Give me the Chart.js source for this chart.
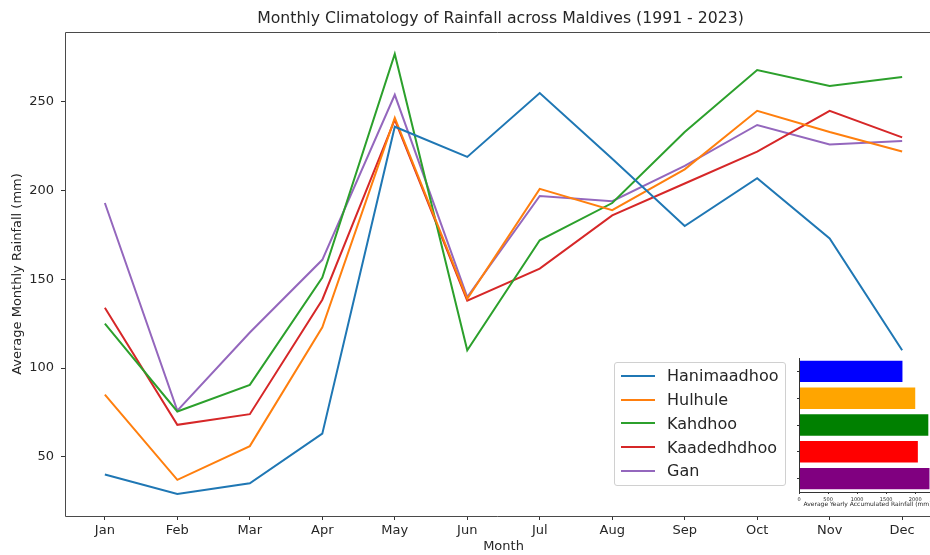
<!DOCTYPE html>
<html>
<head>
<meta charset="utf-8">
<script src="https://cdn.jsdelivr.net/npm/chart.js@4.4.0/dist/chart.umd.min.js"></script>
<style>
  html, body { margin: 0; background: #fff; overflow: hidden; }
  #wrap { position: relative; width: 930px; height: 555px; overflow: hidden; }
  #main { position: absolute; left: 0; top: 0; }
  #inset { position: absolute; left: 780px; top: 350px; }
  #legend {
    position: absolute; left: 614px; top: 362px; width: 172px; height: 124px;
    box-sizing: border-box; border: 1px solid #d0d0d0; border-radius: 3px;
    background: rgba(255,255,255,0.8); padding-top: 1px;
    font-family: "DejaVu Sans", sans-serif; font-size: 16px; color: #262626;
  }
  #legend .row { display: flex; align-items: center; height: 23.75px; }
  #legend .swatch { margin-left: 6px; width: 34px; height: 2px; }
  #legend .name { margin-left: 12px; }
</style>
</head>
<body>
<div id="wrap">
  <canvas id="main" width="930" height="555"></canvas>
  <div id="legend"></div>
  <canvas id="inset" width="150" height="165"></canvas>
</div>
<script>
// monthly climatology (mm)
var months = ["Jan", "Feb", "Mar", "Apr", "May", "Jun", "Jul", "Aug", "Sep", "Oct", "Nov", "Dec"];
var stations = ["Hanimaadhoo", "Hulhule", "Kahdhoo", "Kaadedhdhoo", "Gan"];
var hanimaadhoo = [40, 29, 35, 63, 236, 219, 255, 218, 180, 207, 173, 110];
var hulhule = [85, 37, 56, 123, 241, 139, 201, 189, 212, 245, 233, 222];
var kahdhoo = [125, 75.5, 90.5, 151, 277, 110, 172, 193, 233, 268, 259, 264];
var kaadedhdhoo = [134, 68, 74, 138.5, 240, 138, 156, 186, 204, 222, 245, 230];
var gan = [193, 76, 120, 161, 254, 140, 197, 194, 214, 237, 226, 228];

// yearly accumulated rainfall for the inset bars
var yearlyTotals = [1780, 2000, 2225, 2045, 2245];
var yTicks = [50, 100, 150, 200, 250];
var insetTicks = [0, 500, 1000, 1500, 2000];

var lineColors = ["#1f77b4", "#ff7f0e", "#2ca02c", "#d62728", "#9467bd"];
var barColors = ["blue", "orange", "green", "red", "purple"];
var series = [hanimaadhoo, hulhule, kahdhoo, kaadedhdhoo, gan];

var textColor = "#262626";
var font = "'DejaVu Sans', sans-serif";
var titleText = "Monthly Climatology of Rainfall across Maldives (1991 - 2023)";

// matplotlib-style 5% margins
var allVals = [].concat.apply([], series);
var vMin = Math.min.apply(null, allVals);
var vMax = Math.max.apply(null, allVals);
var vPad = (vMax - vMin) * 0.05;
var xPad = (months.length - 1) * 0.05;
// the original figure is cut at the right: only 865 of the 877px axes width shows
var shown = 865 / 877;
var xMin = -xPad;
var xMax = xMin + (months.length - 1 + 2 * xPad) * shown;
var fullCenter = 65 + 877 / 2;

// spines (right one is outside the picture) + title centred over the full axes
var frame = {
  id: "frame",
  afterDraw: function (chart) {
    var a = chart.chartArea;
    var ctx = chart.ctx;
    var l = Math.round(a.left) + 0.5, t = Math.round(a.top) + 0.5, b = Math.round(a.bottom) + 0.5;
    ctx.save();
    ctx.strokeStyle = "#4a4a4a";
    ctx.lineWidth = 1;
    ctx.beginPath();
    ctx.moveTo(a.right, t);
    ctx.lineTo(l, t);
    ctx.lineTo(l, b);
    ctx.lineTo(a.right, b);
    ctx.stroke();
    ctx.fillStyle = textColor;
    ctx.font = "15.7px " + font;
    ctx.textAlign = "center";
    ctx.textBaseline = "middle";
    ctx.fillText(titleText, fullCenter - 3, 19);
    ctx.restore();
  }
};

var datasets = series.map(function (vals, i) {
  return {
    label: stations[i],
    data: vals.map(function (v, j) { return { x: j, y: v }; }),
    borderColor: lineColors[i],
    backgroundColor: lineColors[i],
    borderWidth: 2,
    pointRadius: 0,
    tension: 0,
  };
});

new Chart(document.getElementById("main").getContext("2d"), {
  type: "line",
  data: { datasets: datasets },
  options: {
    responsive: false,
    animation: false,
    layout: { padding: { top: 32, left: 0, right: 0, bottom: 0 } },
    plugins: {
      legend: { display: false },
      tooltip: { enabled: false },
      title: { display: false },
    },
    scales: {
      x: {
        type: "linear",
        min: xMin,
        max: xMax,
        afterBuildTicks: function (axis) {
          axis.ticks = months.map(function (m, i) { return { value: i }; });
        },
        afterFit: function (axis) { axis.height = 39; },
        ticks: {
          color: textColor,
          font: { family: font, size: 13 },
          padding: 3,
          maxRotation: 0,
          callback: function (v) { return months[Math.round(v)]; },
        },
        grid: { drawOnChartArea: false, drawTicks: true, tickLength: 4, color: "#333" },
        border: { display: false },
        title: {
          display: true,
          text: "Month",
          color: textColor,
          font: { family: font, size: 13 },
          padding: { top: 0, bottom: 0 },
          align: "start",
        },
        afterUpdate: function (axis) {},
      },
      y: {
        min: vMin - vPad,
        max: vMax + vPad,
        afterBuildTicks: function (axis) {
          axis.ticks = yTicks.map(function (v) { return { value: v }; });
        },
        afterFit: function (axis) { axis.width = 65; },
        ticks: {
          color: textColor,
          font: { family: font, size: 13 },
          padding: 7,
        },
        grid: { drawOnChartArea: false, drawTicks: true, tickLength: 4, color: "#333" },
        border: { display: false },
        title: {
          display: true,
          text: "Average Monthly Rainfall (mm)",
          color: textColor,
          font: { family: font, size: 13 },
          padding: { top: 10, bottom: 0 },
        },
      },
    },
  },
  plugins: [frame, {
    // centre "Month" under the full (uncut) axes, as in the original
    id: "monthTitle",
    beforeDraw: function (chart) {
      var xs = chart.scales.x;
      xs.options.title.display = false;
    },
    afterDraw: function (chart) {
      var ctx = chart.ctx;
      ctx.save();
      ctx.fillStyle = textColor;
      ctx.font = "13px " + font;
      ctx.textAlign = "center";
      ctx.textBaseline = "middle";
      ctx.fillText("Month", fullCenter, 547);
      ctx.restore();
    }
  }],
});

// legend box
var legendEl = document.getElementById("legend");
stations.forEach(function (name, i) {
  var row = document.createElement("div");
  row.className = "row";
  var sw = document.createElement("span");
  sw.className = "swatch";
  sw.style.background = lineColors[i];
  var txt = document.createElement("span");
  txt.className = "name";
  txt.textContent = name;
  row.appendChild(sw);
  row.appendChild(txt);
  legendEl.appendChild(row);
});

// inset: yearly totals
var insetFrame = {
  id: "insetFrame",
  afterDraw: function (chart) {
    var a = chart.chartArea;
    var ctx = chart.ctx;
    ctx.save();
    ctx.strokeStyle = "#333";
    ctx.lineWidth = 1;
    ctx.beginPath();
    ctx.moveTo(Math.round(a.left) + 0.5, a.top);
    ctx.lineTo(Math.round(a.left) + 0.5, Math.round(a.bottom) + 0.5);
    ctx.lineTo(a.right, Math.round(a.bottom) + 0.5);
    ctx.stroke();
    ctx.restore();
  }
};

// inset axes is 137px wide but only 131px of it is inside the picture
var insetShown = 131 / 137;
var insetMax = Math.max.apply(null, yearlyTotals) * 1.05;

new Chart(document.getElementById("inset").getContext("2d"), {
  type: "bar",
  data: {
    labels: stations,
    datasets: [{
      data: yearlyTotals,
      backgroundColor: barColors,
      borderWidth: 0,
      barPercentage: 0.8,
      categoryPercentage: 1,
    }],
  },
  options: {
    indexAxis: "y",
    responsive: false,
    animation: false,
    layout: { padding: { top: 8, left: 0, right: 0, bottom: 0 } },
    plugins: { legend: { display: false }, tooltip: { enabled: false } },
    scales: {
      x: {
        min: 0,
        max: insetMax * insetShown,
        afterBuildTicks: function (axis) {
          axis.ticks = insetTicks.map(function (v) { return { value: v }; });
        },
        afterFit: function (axis) { axis.height = 23; },
        ticks: {
          color: textColor,
          font: { family: font, size: 5 },
          padding: 3,
          maxRotation: 0,
          callback: function (v) { return String(v); },
        },
        grid: { drawOnChartArea: false, drawTicks: true, tickLength: 2, color: "#333" },
        border: { display: false },
        title: { display: false },
      },
      y: {
        afterFit: function (axis) { axis.width = 19; },
        ticks: { display: false },
        grid: { drawOnChartArea: false, drawTicks: true, tickLength: 2, color: "#333", offset: false },
        border: { display: false },
      },
    },
  },
  plugins: [insetFrame, {
    id: "insetTitle",
    afterDraw: function (chart) {
      var a = chart.chartArea;
      var ctx = chart.ctx;
      ctx.save();
      ctx.fillStyle = textColor;
      ctx.font = "6px " + font;
      ctx.textAlign = "center";
      ctx.textBaseline = "middle";
      ctx.fillText("Average Yearly Accumulated Rainfall (mm)", a.left + 137 / 2, 154.5);
      ctx.restore();
    }
  }],
});
</script>
</body>
</html>
